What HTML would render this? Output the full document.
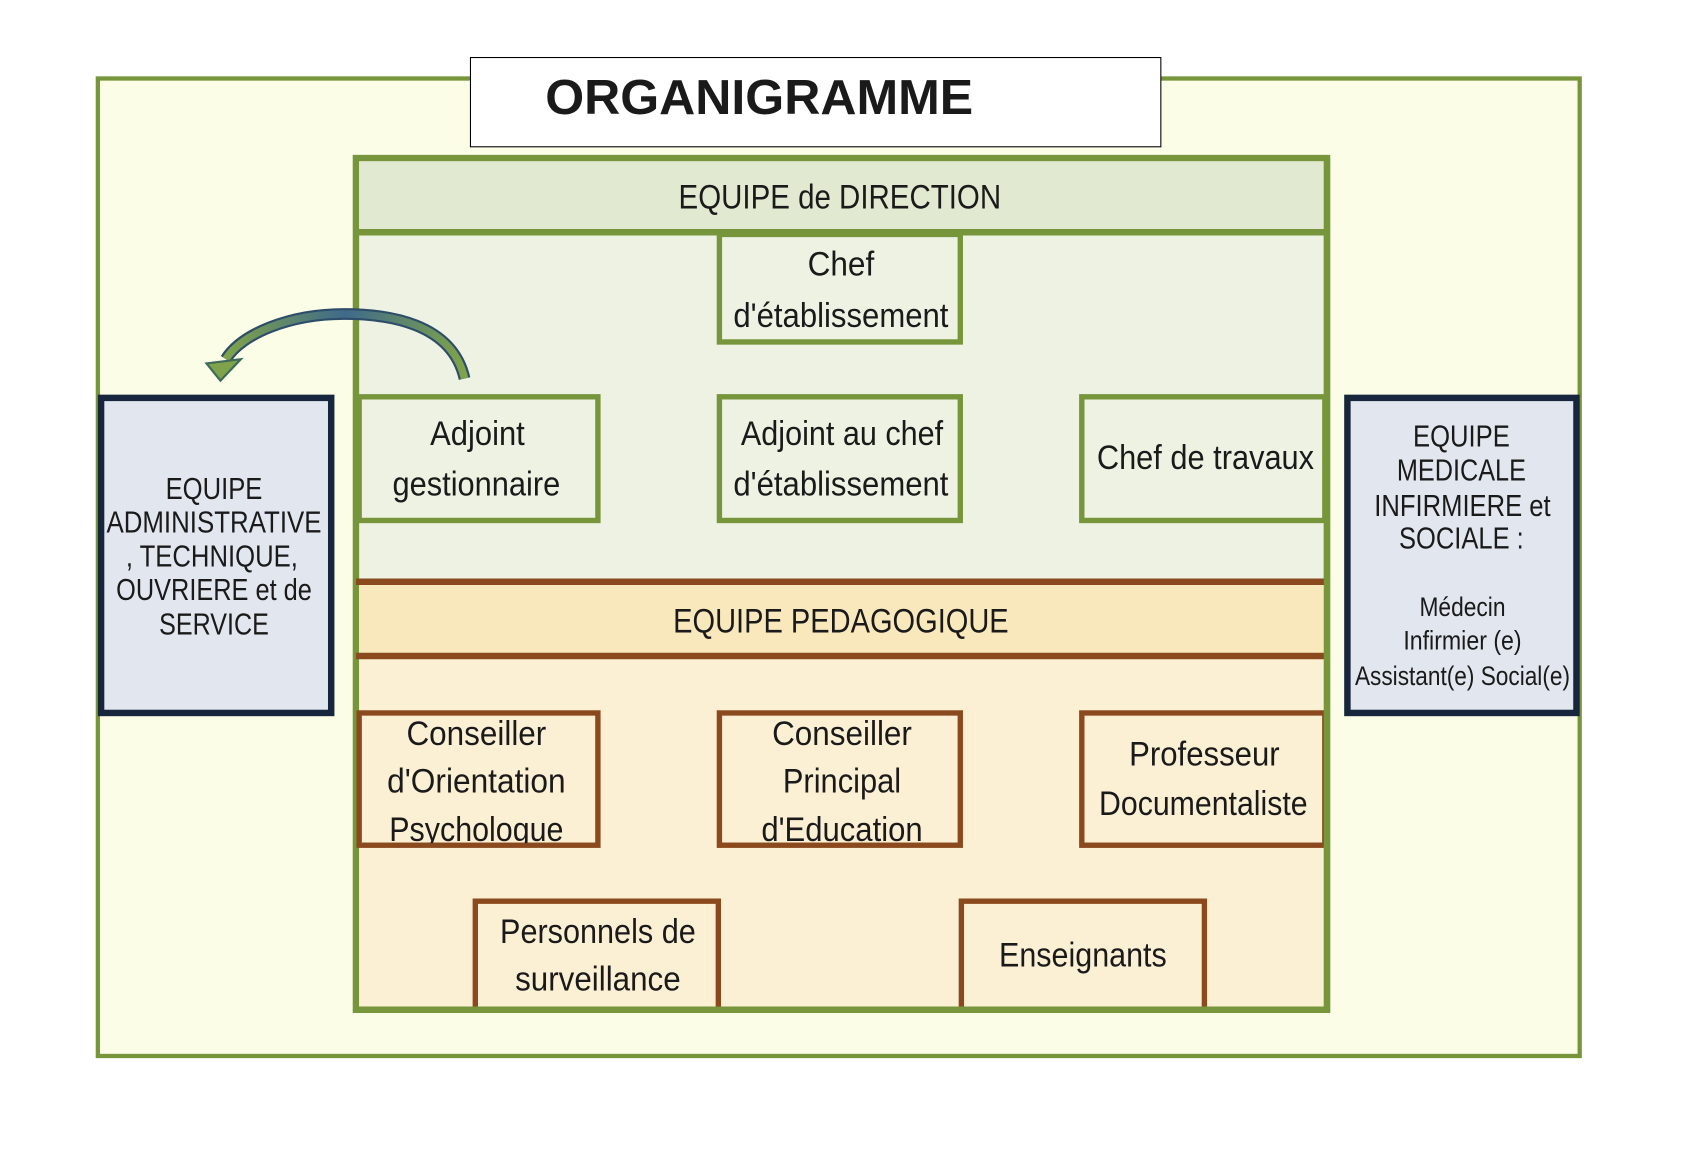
<!DOCTYPE html>
<html><head><meta charset="utf-8"><style>
html,body{margin:0;padding:0;background:#fff;}
svg{display:block;}
text{font-family:"Liberation Sans Narrow","Liberation Sans",sans-serif;fill:#1a1a1a;}
</style></head><body>
<svg width="1684" height="1156" viewBox="0 0 1566 1075" preserveAspectRatio="none" xmlns="http://www.w3.org/2000/svg">
<defs>
<linearGradient id="ag" x1="0" y1="0" x2="1" y2="0">
<stop offset="0" stop-color="#7fa34a"/><stop offset="0.5" stop-color="#3f6a8a"/><stop offset="1" stop-color="#7fa34a"/>
</linearGradient>
</defs>
<rect x="91" y="73" width="1378" height="909" fill="#fbfde6" stroke="#77963c" stroke-width="4"/>
<rect x="437.5" y="53.5" width="642" height="83" fill="#fff" stroke="#000" stroke-width="1"/>
<text x="507" y="106" font-weight="bold" font-size="46" textLength="398" lengthAdjust="spacingAndGlyphs" style="font-family:'Liberation Sans',sans-serif">ORGANIGRAMME</text>
<rect x="331" y="147" width="903" height="792" fill="#eef2e3" stroke="#77963c" stroke-width="6"/>
<rect x="334" y="150" width="897" height="64" fill="#e2e9d1"/>
<line x1="331" y1="216" x2="1234" y2="216" stroke="#77963c" stroke-width="6"/>
<text x="781" y="194" font-size="32" text-anchor="middle" textLength="300" lengthAdjust="spacingAndGlyphs">EQUIPE de DIRECTION</text>
<rect x="334" y="541" width="897" height="395" fill="#fcf0d4"/>
<rect x="334" y="544" width="897" height="64" fill="#fae8bd"/>
<line x1="331" y1="541" x2="1236" y2="541" stroke="#8b4a1e" stroke-width="6"/>
<line x1="331" y1="610" x2="1236" y2="610" stroke="#8b4a1e" stroke-width="6"/>
<text x="782" y="588" font-size="32" text-anchor="middle" textLength="312" lengthAdjust="spacingAndGlyphs">EQUIPE PEDAGOGIQUE</text>
<g fill="none" stroke="#77963c" stroke-width="5">
<rect x="669" y="218" width="224" height="100"/>
<rect x="334" y="369" width="222" height="115"/>
<rect x="669" y="369" width="224" height="115"/>
<rect x="1006" y="369" width="226" height="115"/>
</g>
<g font-size="32" text-anchor="middle">
<text x="782" y="256" textLength="62" lengthAdjust="spacingAndGlyphs">Chef</text>
<text x="782" y="304" textLength="200" lengthAdjust="spacingAndGlyphs">d'établissement</text>
<text x="444" y="414" textLength="88" lengthAdjust="spacingAndGlyphs">Adjoint</text>
<text x="443" y="461" textLength="156" lengthAdjust="spacingAndGlyphs">gestionnaire</text>
<text x="783" y="414" textLength="188" lengthAdjust="spacingAndGlyphs">Adjoint au chef</text>
<text x="782" y="461" textLength="200" lengthAdjust="spacingAndGlyphs">d'établissement</text>
<text x="1121" y="436" textLength="202" lengthAdjust="spacingAndGlyphs">Chef de travaux</text>
</g>
<clipPath id="c1"><rect x="334" y="662" width="222" height="122"/></clipPath>
<clipPath id="c2"><rect x="669" y="662" width="224" height="122"/></clipPath>
<g fill="none" stroke="#8b4a1e" stroke-width="5">
<rect x="334" y="663" width="222" height="123"/>
<rect x="669" y="663" width="224" height="123"/>
<rect x="1006" y="663" width="226" height="123"/>
<path d="M442 940 V838 H668 V940"/>
<path d="M894 940 V838 H1120 V940"/>
</g>
<g font-size="32" text-anchor="middle">
<g clip-path="url(#c1)">
<text x="443" y="693" textLength="130" lengthAdjust="spacingAndGlyphs">Conseiller</text>
<text x="443" y="737" textLength="166" lengthAdjust="spacingAndGlyphs">d'Orientation</text>
<text x="443" y="782" textLength="162" lengthAdjust="spacingAndGlyphs">Psychologue</text>
</g>
<g clip-path="url(#c2)">
<text x="783" y="693" textLength="130" lengthAdjust="spacingAndGlyphs">Conseiller</text>
<text x="783" y="737" textLength="110" lengthAdjust="spacingAndGlyphs">Principal</text>
<text x="783" y="782" textLength="150" lengthAdjust="spacingAndGlyphs">d'Education</text>
</g>
<text x="1120" y="712" textLength="140" lengthAdjust="spacingAndGlyphs">Professeur</text>
<text x="1119" y="758" textLength="194" lengthAdjust="spacingAndGlyphs">Documentaliste</text>
<text x="556" y="877" textLength="182" lengthAdjust="spacingAndGlyphs">Personnels de</text>
<text x="556" y="921" textLength="154" lengthAdjust="spacingAndGlyphs">surveillance</text>
<text x="1007" y="899" textLength="156" lengthAdjust="spacingAndGlyphs">Enseignants</text>
</g>
<line x1="331" y1="939" x2="1236" y2="939" stroke="#77963c" stroke-width="6"/>
<line x1="1234" y1="147" x2="1234" y2="941" stroke="#77963c" stroke-width="6"/>
<rect x="94" y="370" width="214" height="293" fill="#e1e6ef" stroke="#17263d" stroke-width="6"/>
<rect x="1253" y="370" width="213" height="293" fill="#e1e6ef" stroke="#17263d" stroke-width="6"/>
<g font-size="28" text-anchor="middle">
<text x="199" y="464" textLength="90" lengthAdjust="spacingAndGlyphs">EQUIPE</text>
<text x="199" y="495" textLength="200" lengthAdjust="spacingAndGlyphs">ADMINISTRATIVE</text>
<text x="197" y="527" textLength="160" lengthAdjust="spacingAndGlyphs">, TECHNIQUE,</text>
<text x="199" y="558" textLength="182" lengthAdjust="spacingAndGlyphs">OUVRIERE et de</text>
<text x="199" y="590" textLength="102" lengthAdjust="spacingAndGlyphs">SERVICE</text>
<text x="1359" y="415" textLength="90" lengthAdjust="spacingAndGlyphs">EQUIPE</text>
<text x="1359" y="447" textLength="120" lengthAdjust="spacingAndGlyphs">MEDICALE</text>
<text x="1360" y="480" textLength="164" lengthAdjust="spacingAndGlyphs">INFIRMIERE et</text>
<text x="1359" y="510" textLength="116" lengthAdjust="spacingAndGlyphs">SOCIALE :</text>
</g>
<g font-size="25" text-anchor="middle">
<text x="1360" y="573" textLength="80" lengthAdjust="spacingAndGlyphs">Médecin</text>
<text x="1360" y="604" textLength="110" lengthAdjust="spacingAndGlyphs">Infirmier (e)</text>
<text x="1360" y="637" textLength="200" lengthAdjust="spacingAndGlyphs">Assistant(e) Social(e)</text>
</g>
<path d="M432 352 C420 300 360 292 320 292 C270 292 225 310 210 334" fill="none" stroke="#2d4d6a" stroke-width="11"/>
<path d="M432 352 C420 300 360 292 320 292 C270 292 225 310 210 334" fill="none" stroke="url(#ag)" stroke-width="7"/>
<polygon points="192,338 224,334 205,354" fill="#7fa34a" stroke="#3f6a5a" stroke-width="2"/>
</svg>
</body></html>
